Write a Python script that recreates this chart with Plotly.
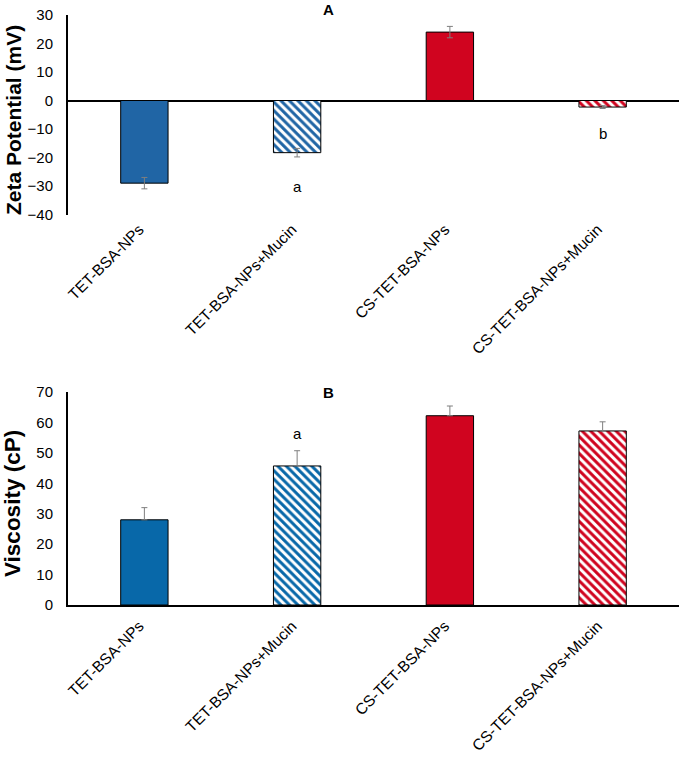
import plotly.graph_objects as go

categories = ["TET-BSA-NPs", "TET-BSA-NPs+Mucin", "CS-TET-BSA-NPs", "CS-TET-BSA-NPs+Mucin"]
zeta_values = [-29.0, -18.3, 24.0, -2.3]
zeta_errors = [2.0, 1.5, 2.0, 0.5]
visc_values = [28.0, 45.7, 62.2, 57.2]
visc_errors = [4.0, 5.0, 3.2, 3.0]
zeta_letters = ["", "a", "", "b"]
zeta_letter_y = [None, -30.0, None, -11.5]
visc_letters = ["", "a", "", ""]
visc_letter_y = [None, 56.5, None, None]

W, H = 683, 761
BLUE_A = "#2065A5"
BLUE_B = "#0868A9"
RED = "#D0041F"
FONT = "Liberation Sans, Arial, sans-serif"
hatched = [False, True, False, True]


def px_x(p):
    return p / W


def px_y(p):
    return 1 - p / H


fig = go.Figure()


def add_panel(values, errors, blue, xa, ya, plus_only):
    cols = [blue, blue, RED, RED]
    for i, cat in enumerate(categories):
        c = cols[i]
        if hatched[i]:
            marker = dict(color="white", line=dict(color="black", width=1),
                          pattern=dict(shape="\\", fgcolor=c, bgcolor="white", fgopacity=1,
                                       size=6, solidity=0.5, fillmode="overlay"))
        else:
            marker = dict(color=c, line=dict(color="black", width=1))
        err = dict(type="data", array=[errors[i]], color="#7f7f7f", thickness=1, width=3)
        if plus_only:
            err.update(symmetric=False, arrayminus=[0])
        fig.add_trace(go.Bar(x=[cat], y=[values[i]], width=0.31, marker=marker,
                             error_y=err, xaxis=xa, yaxis=ya, showlegend=False))


add_panel(zeta_values, zeta_errors, BLUE_A, "x", "y", False)
add_panel(visc_values, visc_errors, BLUE_B, "x2", "y2", True)

xdom = [px_x(68), px_x(679)]
tickfont = dict(family=FONT, size=15.5, color="black")
ytickfont = dict(family=FONT, size=15, color="black")

fig.update_layout(
    width=W, height=H, autosize=False,
    margin=dict(l=0, r=0, t=0, b=0, autoexpand=False),
    paper_bgcolor="white", plot_bgcolor="white",
    barmode="overlay",
    xaxis=dict(domain=xdom, anchor="y", tickangle=-45, tickfont=tickfont,
               showline=False, showgrid=False, ticks="", ticklabelstandoff=2,
               ticklabelshift=-5, automargin=False,
               categoryorder="array", categoryarray=categories),
    yaxis=dict(domain=[px_y(214.5), px_y(15)], anchor="x", range=[-40, 30], dtick=10,
               showline=True, linecolor="black", linewidth=2, showgrid=False,
               zeroline=True, zerolinecolor="black", zerolinewidth=2, automargin=False,
               ticks="", tickfont=ytickfont, ticklabelstandoff=10),
    xaxis2=dict(domain=xdom, anchor="y2", tickangle=-45, tickfont=tickfont,
                showline=True, linecolor="black", linewidth=2, showgrid=False,
                ticks="", ticklabelstandoff=4, ticklabelshift=-5, automargin=False,
                categoryorder="array", categoryarray=categories),
    yaxis2=dict(domain=[px_y(605), px_y(392)], anchor="x2", range=[0, 70], dtick=10,
                showline=True, linecolor="black", linewidth=2, showgrid=False,
                zeroline=False, ticks="", tickfont=ytickfont, ticklabelstandoff=10,
                automargin=False),
)

annotations = [
    dict(text="<b>A</b>", x=px_x(328), y=px_y(10), xref="paper", yref="paper",
         xanchor="center", yanchor="middle",
         showarrow=False, font=dict(family=FONT, size=15, color="black")),
    dict(text="<b>B</b>", x=px_x(328), y=px_y(392), xref="paper", yref="paper",
         xanchor="center", yanchor="middle",
         showarrow=False, font=dict(family=FONT, size=15, color="black")),
    dict(text="<b>Zeta Potential (mV)</b>", x=px_x(14), y=px_y(120), xref="paper", yref="paper",
         xanchor="center", yanchor="middle",
         textangle=-90, showarrow=False, font=dict(family=FONT, size=21, color="black")),
    dict(text="<b>Viscosity (cP)</b>", x=px_x(12), y=px_y(504), xref="paper", yref="paper",
         xanchor="center", yanchor="middle",
         textangle=-90, showarrow=False, font=dict(family=FONT, size=22.5, color="black")),
]
for c, t, yv in zip(categories, zeta_letters, zeta_letter_y):
    if t:
        annotations.append(dict(text=t, x=c, y=yv, xref="x", yref="y", showarrow=False,
                                font=dict(family=FONT, size=15, color="black")))
for c, t, yv in zip(categories, visc_letters, visc_letter_y):
    if t:
        annotations.append(dict(text=t, x=c, y=yv, xref="x2", yref="y2", showarrow=False,
                                font=dict(family=FONT, size=15, color="black")))
fig.update_layout(annotations=annotations)

post = (
    "document.documentElement.style.margin='0';"
    "document.documentElement.style.padding='0';"
    "document.documentElement.style.overflow='hidden';"
    "document.body.style.margin='0';"
    "document.body.style.padding='0';"
    "document.body.style.overflow='hidden';"
    "var gd=document.getElementById('{plot_id}');"
    "gd.style.position='absolute';gd.style.left='0px';gd.style.top='0px';"
)
fig.write_html("out.html", config={"displayModeBar": False}, post_script=post)
